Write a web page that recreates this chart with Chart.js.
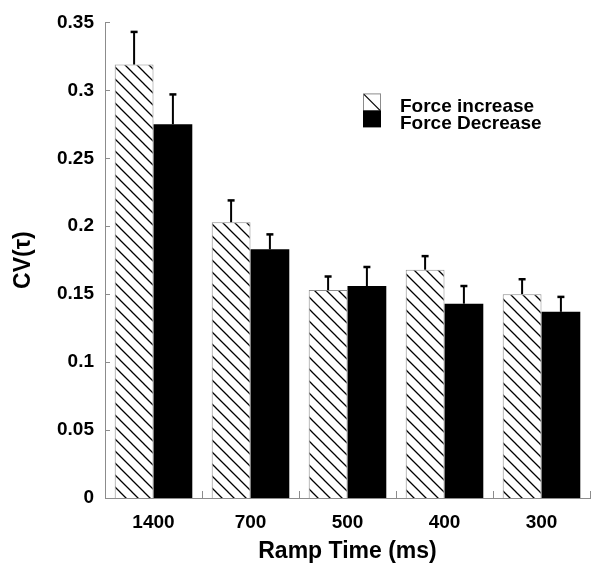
<!DOCTYPE html>
<html>
<head>
<meta charset="utf-8">
<script src="https://cdn.jsdelivr.net/npm/chart.js@4"></script>
<style>
  html, body { margin: 0; padding: 0; background: #fff; }
  #wrap { width: 600px; height: 580px; }
</style>
</head>
<body>
<div id="wrap"><canvas id="cvChart" width="600" height="580"></canvas></div>
<script>
// ---- data ----
const rampTimes = ['1400', '700', '500', '400', '300'];
const increaseMeans = [0.319, 0.203, 0.153, 0.168, 0.150];
const increaseErrors = [0.024, 0.016, 0.010, 0.010, 0.011];
const decreaseMeans = [0.275, 0.183, 0.156, 0.143, 0.137];
const decreaseErrors = [0.022, 0.011, 0.014, 0.013, 0.011];
const seriesNames = ['Force increase', 'Force Decrease'];

const FONT = '"Liberation Sans", Arial, sans-serif';
const AXIS_GREY = '#8c8c8c';

// diagonal hatch (top-left to bottom-right)
function makeHatch() {
    const size = 12;
    const tile = document.createElement('canvas');
    tile.width = size;
    tile.height = size;
    const c = tile.getContext('2d');
    c.fillStyle = '#fff';
    c.fillRect(0, 0, size, size);
    c.strokeStyle = '#000';
    c.lineWidth = 1.3;
    c.beginPath();
    c.moveTo(-1, -1); c.lineTo(size + 1, size + 1);
    c.moveTo(-1, size - 1); c.lineTo(1, size + 1);
    c.moveTo(size - 1, -1); c.lineTo(size + 1, 1);
    c.stroke();
    return c.createPattern(tile, 'repeat');
}
const hatch = makeHatch();

// error bars, upward only
const errorBars = {
    id: 'errorBars',
    afterDatasetsDraw(chart) {
        const ctx = chart.ctx;
        const yScale = chart.scales.y;
        ctx.save();
        ctx.strokeStyle = '#000';
        chart.data.datasets.forEach((ds, di) => {
            const meta = chart.getDatasetMeta(di);
            meta.data.forEach((bar, i) => {
                const top = yScale.getPixelForValue(ds.data[i] + ds.errors[i]);
                ctx.lineWidth = 2;
                ctx.beginPath();
                ctx.moveTo(bar.x, bar.y);
                ctx.lineTo(bar.x, top);
                ctx.stroke();
                ctx.lineWidth = 2.5;
                ctx.beginPath();
                ctx.moveTo(bar.x - 3.5, top);
                ctx.lineTo(bar.x + 3.5, top);
                ctx.stroke();
            });
        });
        ctx.restore();
    }
};

// small inward tick marks on both axes
const inwardTicks = {
    id: 'inwardTicks',
    afterDraw(chart) {
        const ctx = chart.ctx;
        const area = chart.chartArea;
        const xs = chart.scales.x;
        const ys = chart.scales.y;
        ctx.save();
        ctx.strokeStyle = AXIS_GREY;
        ctx.lineWidth = 1;
        ctx.beginPath();
        ys.ticks.forEach(t => {
            const y = Math.round(ys.getPixelForValue(t.value)) + 0.5;
            ctx.moveTo(area.left, y);
            ctx.lineTo(area.left + 5, y);
        });
        for (let i = 1; i <= rampTimes.length; i++) {
            const x = Math.round(xs.getPixelForValue(i - 0.5)) + 0.5;
            ctx.moveTo(x, area.bottom);
            ctx.lineTo(x, area.bottom - 7);
        }
        ctx.stroke();
        ctx.restore();
    }
};

// legend: stacked swatches with labels to the right
const stackedLegend = {
    id: 'stackedLegend',
    afterDraw(chart) {
        const ctx = chart.ctx;
        const area = chart.chartArea;
        const x = area.left + 258;
        const y = area.top + 71;
        const w = 18, h = 17;
        ctx.save();
        ctx.fillStyle = '#fff';
        ctx.fillRect(x, y, w, h);
        ctx.strokeStyle = AXIS_GREY;
        ctx.lineWidth = 1;
        ctx.strokeRect(x + 0.5, y + 0.5, w - 1, h);
        ctx.strokeStyle = '#000';
        ctx.lineWidth = 1.3;
        ctx.beginPath();
        ctx.moveTo(x + 1, y + 1);
        ctx.lineTo(x + w - 1, y + h);
        ctx.stroke();
        ctx.fillStyle = '#000';
        ctx.fillRect(x, y + h, w, h);
        ctx.font = 'bold 19px ' + FONT;
        ctx.textBaseline = 'alphabetic';
        ctx.textAlign = 'left';
        ctx.fillText(seriesNames[0], x + 37, y + 19);
        ctx.fillText(seriesNames[1], x + 37, y + 36);
        ctx.restore();
    }
};

new Chart(document.getElementById('cvChart'), {
    type: 'bar',
    data: {
        labels: rampTimes,
        datasets: [
            {
                label: seriesNames[0],
                data: increaseMeans,
                errors: increaseErrors,
                backgroundColor: hatch,
                borderColor: '#8a8a8a',
                borderWidth: 1,
                categoryPercentage: 0.8,
                barPercentage: 1.0
            },
            {
                label: seriesNames[1],
                data: decreaseMeans,
                errors: decreaseErrors,
                backgroundColor: '#000',
                borderWidth: 0,
                categoryPercentage: 0.8,
                barPercentage: 1.0
            }
        ]
    },
    options: {
        responsive: false,
        animation: false,
        devicePixelRatio: 1,
        layout: { padding: { top: 14, right: 10, left: 0, bottom: 0 } },
        plugins: {
            legend: { display: false },
            tooltip: { enabled: false }
        },
        scales: {
            x: {
                grid: { display: false, drawTicks: false },
                border: { display: true, color: AXIS_GREY, width: 1 },
                ticks: { color: '#000', padding: 13, font: { family: FONT, size: 19, weight: 'bold' } },
                title: {
                    display: true,
                    text: 'Ramp Time (ms)',
                    color: '#000',
                    font: { family: FONT, size: 23, weight: 'bold' },
                    padding: { top: 0, bottom: 15 }
                },
                afterFit(scale) { scale.height = 82; }
            },
            y: {
                min: 0,
                max: 0.35,
                grid: { display: false, drawTicks: false },
                border: { display: true, color: AXIS_GREY, width: 1 },
                ticks: {
                    stepSize: 0.05,
                    color: '#000',
                    padding: 11,
                    font: { family: FONT, size: 19, weight: 'bold' },
                    callback: v => String(Math.round(v * 100) / 100)
                },
                title: {
                    display: true,
                    text: 'CV(τ)',
                    color: '#000',
                    font: { family: FONT, size: 23, weight: 'bold' },
                    padding: { top: 10, bottom: 0 }
                },
                afterFit(scale) { scale.width = 105; }
            }
        }
    },
    plugins: [errorBars, inwardTicks, stackedLegend]
});
</script>
</body>
</html>
